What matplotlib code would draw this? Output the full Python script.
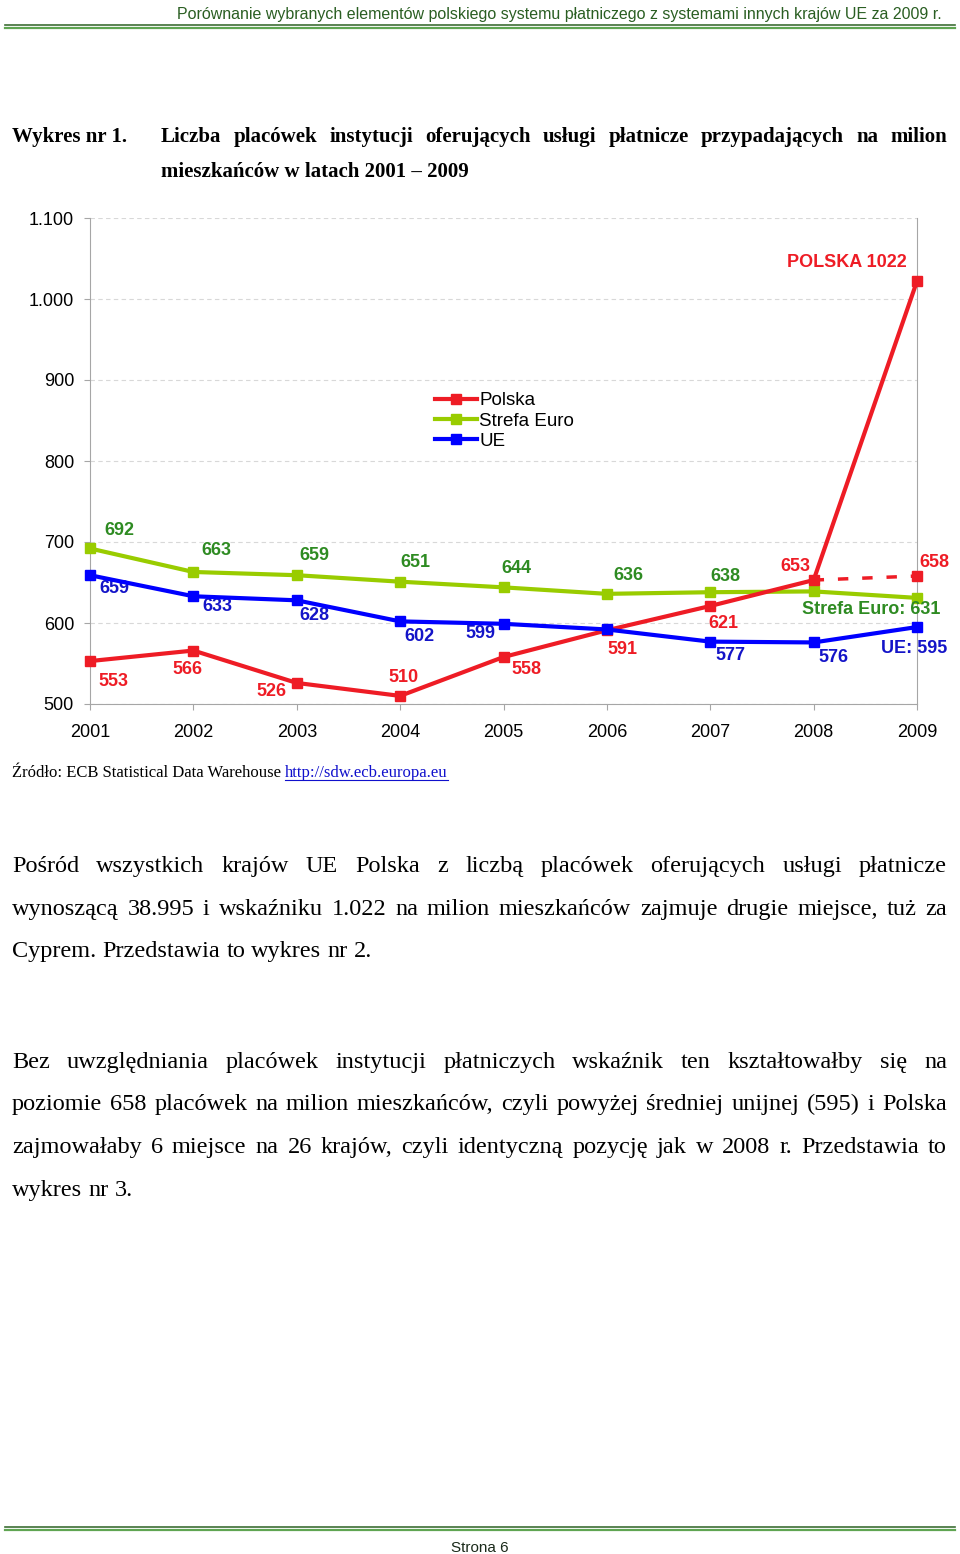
import matplotlib
matplotlib.use("Agg")
import matplotlib.pyplot as plt
from matplotlib.lines import Line2D
from matplotlib.ticker import FuncFormatter

# dane
lata = [2001, 2002, 2003, 2004, 2005, 2006, 2007, 2008, 2009]
polska = [553, 566, 526, 510, 558, 591, 621, 653, 1022]
strefa_euro = [692, 663, 659, 651, 644, 636, 638, 639, 631]
ue = [659, 633, 628, 602, 599, 592, 577, 576, 595]
# Polska bez placowek instytucji platniczych (2008-2009)
lata_bez_ip = [2008, 2009]
polska_bez_ip = [653, 658]

etykiety_polska = ["553", "566", "526", "510", "558", "591", "621", "653", "POLSKA 1022"]
etykiety_euro = ["692", "663", "659", "651", "644", "636", "638", "", "Strefa Euro: 631"]
etykiety_ue = ["659", "633", "628", "602", "599", "", "577", "576", "UE: 595"]
etykieta_bez_ip = "658"

W, H = 960, 1554
CZERWONY = "#ee1c25"
ZIELONY = "#99cc00"
ZIELONY_TXT = "#2e8b22"
NIEBIESKI = "#0000ff"
NIEBIESKI_TXT = "#1414c8"

fig = plt.figure(figsize=(W / 100, H / 100), dpi=100)


def fy(y):
    return 1 - y / H


def wyjustuj(slowa, x0, x1, y, justuj=True, **kw):
    teksty = [fig.text(0, fy(y), s, ha="left", va="baseline", **kw) for s in slowa]
    r = fig.canvas.get_renderer()
    szer = [t.get_window_extent(r).width for t in teksty]
    if justuj and len(slowa) > 1:
        odstep = (x1 - x0 - sum(szer)) / (len(slowa) - 1)
    else:
        sp = fig.text(0, 0, "a a", **kw)
        sa = fig.text(0, 0, "aa", **kw)
        odstep = sp.get_window_extent(r).width - sa.get_window_extent(r).width
        sp.remove()
        sa.remove()
    x = x0
    for t, w in zip(teksty, szer):
        t.set_x(x / W)
        x += w + odstep


# naglowek i stopka strony
fig.text(942 / W, fy(19), "Porównanie wybranych elementów polskiego systemu płatniczego z systemami innych krajów UE za 2009 r.",
         ha="right", va="baseline", fontsize=11.5, color="#2a5e22",
         family=["Liberation Sans Narrow", "Liberation Sans"])
for y, c, lw in [(25, "#3d6e35", 1.2), (27.5, "#5fa552", 1.6), (1527, "#3d6e35", 1.2), (1529.5, "#5fa552", 1.6)]:
    fig.add_artist(Line2D([5 / W, 955 / W], [fy(y), fy(y)], color=c, lw=lw))
fig.text(480 / W, fy(1552), "Strona 6", ha="center", va="baseline", fontsize=11,
         color="#1a2a1a", family="Liberation Sans")

# tytul wykresu
serif_b = dict(family="Liberation Serif", fontweight="bold", fontsize=15, color="black")
fig.text(12 / W, fy(142), "Wykres nr 1.", ha="left", va="baseline", **serif_b)
wyjustuj("Liczba placówek instytucji oferujących usługi płatnicze przypadających na milion".split(),
         161, 947, 142, **serif_b)
fig.text(161 / W, fy(177), "mieszkańców w latach 2001 – 2009", ha="left", va="baseline", **serif_b)

# wykres
ax = fig.add_axes([90 / W, fy(704), (917 - 90) / W, (704 - 218) / H])
ax.set_xlim(2001, 2009)
ax.set_ylim(500, 1100)

ax.plot(lata, strefa_euro, color=ZIELONY, lw=3, marker="s", ms=7, clip_on=False, zorder=3, label="Strefa Euro")
ax.plot(lata, polska, color=CZERWONY, lw=3, marker="s", ms=7, clip_on=False, zorder=4, label="Polska")
ax.plot(lata, ue, color=NIEBIESKI, lw=3, marker="s", ms=7, clip_on=False, zorder=5, label="UE")
ax.plot(lata_bez_ip, polska_bez_ip, color=CZERWONY, lw=2.5, ls=(0, (3, 4)), zorder=4, clip_on=False)
ax.plot(lata_bez_ip[1:], polska_bez_ip[1:], color=CZERWONY, marker="s", ms=7, ls="none", zorder=4, clip_on=False)

ax.yaxis.grid(True, color="#d8d8d8", ls=(0, (4, 3)), lw=0.8)
ax.set_axisbelow(True)
for s in ["left", "bottom", "right"]:
    ax.spines[s].set_color("#a6a6a6")
ax.spines["top"].set_visible(False)
ax.set_xticks(lata)
ax.set_yticks(range(500, 1101, 100))
ax.yaxis.set_major_formatter(FuncFormatter(lambda v, p: f"{v:,.0f}".replace(",", ".")))
ax.tick_params(axis="both", colors="#a6a6a6", labelcolor="black", labelsize=13, length=4)
ax.tick_params(axis="x", pad=10.5)
ax.tick_params(axis="y", pad=7.5)
for t in ax.get_xticklabels() + ax.get_yticklabels():
    t.set_family("Liberation Sans")

# etykiety danych (przesuniecie w pikselach: dx, dy w dol)
przes_euro = [(29, -18), (23, -21), (18, -20), (15, -19), (13, -19), (21, -18), (15, -16), (0, 0), (-46, 12)]
przes_ue = [(24, 13), (24, 10), (18, 15), (19, 15), (-23, 10), (0, 0), (20, 14), (20, 15), (-3, 21)]
przes_polska = [(23, 20), (-6, 19), (-25, 9), (3, -18), (23, 12), (16, 19), (13, 18), (-18, -14), (-70, -19)]
etyk = dict(fontsize=13, fontweight="bold", family="Liberation Sans", ha="center", va="center",
            textcoords="offset pixels", annotation_clip=False)
for serie, etykiety, przes, kolor in [(strefa_euro, etykiety_euro, przes_euro, ZIELONY_TXT),
                                      (ue, etykiety_ue, przes_ue, NIEBIESKI_TXT),
                                      (polska, etykiety_polska, przes_polska, CZERWONY)]:
    for x, y, s, (dx, dy) in zip(lata, serie, etykiety, przes):
        if s:
            ax.annotate(s, (x, y), xytext=(dx, -dy), color=kolor, **etyk)
ax.annotate(etykieta_bez_ip, (lata_bez_ip[1], polska_bez_ip[1]), xytext=(17, 14), color=CZERWONY, **etyk)

uchwyty, opisy = ax.get_legend_handles_labels()
kolej = [1, 0, 2]
ax.legend([uchwyty[i] for i in kolej], [opisy[i] for i in kolej], loc="center left",
          bbox_to_anchor=(426 / W, fy(421)), bbox_transform=fig.transFigure, frameon=False,
          borderpad=0, handlelength=2.2, handletextpad=0.15, labelspacing=0.17, numpoints=1,
          prop=dict(family="Liberation Sans", size=13.5))

# zrodlo
r = fig.canvas.get_renderer()
zr = fig.text(12 / W, fy(777), "Źródło: ECB Statistical Data Warehouse ", ha="left", va="baseline",
              family="Liberation Serif", fontsize=12)
x_link = 12 + zr.get_window_extent(r).width
link = fig.text(x_link / W, fy(777), "http://sdw.ecb.europa.eu", ha="left", va="baseline",
                family="Liberation Serif", fontsize=12, color="#1010cc")
w_link = link.get_window_extent(r).width
fig.add_artist(Line2D([x_link / W, (x_link + w_link) / W], [fy(779.5), fy(779.5)], color="#1010cc", lw=0.8))

# tekst
serif = dict(family="Liberation Serif", fontsize=17.5, color="black")
akapity = [
    ([872, 915, 957], [
        ("Pośród wszystkich krajów UE Polska z liczbą placówek oferujących usługi płatnicze", True),
        ("wynoszącą 38.995 i wskaźniku 1.022 na milion mieszkańców zajmuje drugie miejsce, tuż za", True),
        ("Cyprem. Przedstawia to wykres nr 2.", False)]),
    ([1068, 1110, 1153, 1196], [
        ("Bez uwzględniania placówek instytucji płatniczych wskaźnik ten kształtowałby się na", True),
        ("poziomie 658 placówek na milion mieszkańców, czyli powyżej średniej unijnej (595) i Polska", True),
        ("zajmowałaby 6 miejsce na 26 krajów, czyli identyczną pozycję jak w 2008 r. Przedstawia to", True),
        ("wykres nr 3.", False)]),
]
for ys, linie in akapity:
    for y, (linia, just) in zip(ys, linie):
        wyjustuj(linia.split(), 12, 947, y, justuj=just, **serif)

fig.savefig("out.png", dpi=100)
